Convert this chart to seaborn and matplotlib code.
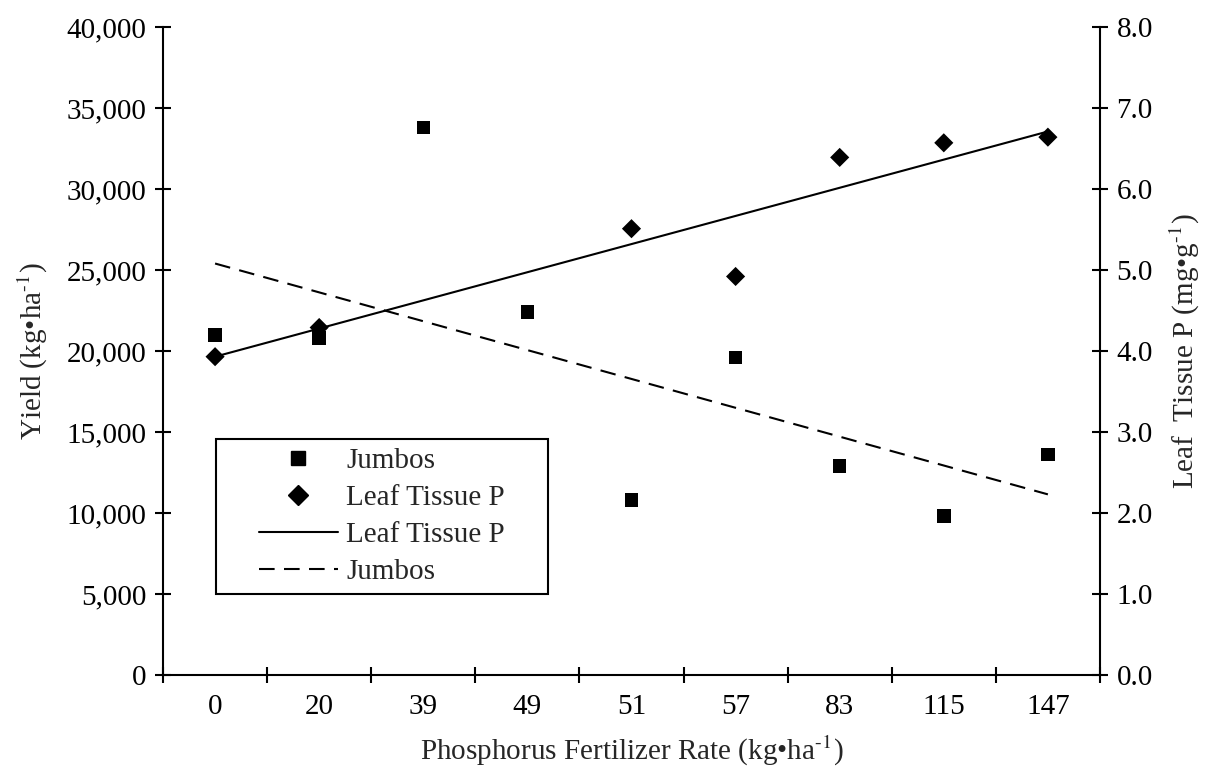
import matplotlib
matplotlib.use('Agg')
import matplotlib.pyplot as plt
from matplotlib.lines import Line2D
from matplotlib.patches import Rectangle
from matplotlib.ticker import FuncFormatter, FixedLocator
import seaborn as sns
import numpy as np

# data
rates = ['0', '20', '39', '49', '51', '57', '83', '115', '147']
jumbos = [21000, 20800, 33800, 22400, 10800, 19600, 12900, 9800, 13600]
leaf_rates = ['0', '20', '51', '57', '83', '115', '147']
leaf_p = [3.93, 4.29, 5.51, 4.92, 6.39, 6.57, 6.64]
trend_rates = ['0', '147']
leaf_trend = [3.93, 6.71]
jumbo_trend = [25400, 11150]

yield_ticks = [0, 5000, 10000, 15000, 20000, 25000, 30000, 35000, 40000]
leaf_ticks = [0, 1, 2, 3, 4, 5, 6, 7, 8]

sns.set_theme(style='ticks')
plt.rcParams['font.family'] = ['Liberation Serif', 'DejaVu Serif']
plt.rcParams['mathtext.fontset'] = 'stix'
plt.rcParams['axes.linewidth'] = 1.4
FS = 21

pos = {r: i for i, r in enumerate(rates)}
x_all = [pos[r] for r in rates]
x_leaf = [pos[r] for r in leaf_rates]
x_trend = [pos[r] for r in trend_rates]

fig, ax = plt.subplots(figsize=(12.13, 7.71), dpi=100)
fig.subplots_adjust(left=0.1344, right=0.9068, bottom=0.1245, top=0.965)
ax2 = ax.twinx()

# jumbos on the left axis
sns.scatterplot(x=x_all, y=jumbos, ax=ax, marker='s', s=95, color='black',
                edgecolor='none', legend=False, zorder=3)
sns.lineplot(x=x_trend, y=jumbo_trend, ax=ax, color='black', linewidth=1.5,
             linestyle=(0, (7.5, 4.5)), legend=False)

# leaf tissue P on the right axis
sns.scatterplot(x=x_leaf, y=leaf_p, ax=ax2, marker='D', s=95, color='black',
                edgecolor='none', legend=False, zorder=3)
sns.lineplot(x=x_trend, y=leaf_trend, ax=ax2, color='black', linewidth=1.5,
             legend=False)

# axes limits / ticks
ax.set_xlim(-0.5, len(rates) - 0.5)
ax.set_ylim(0, 40000)
ax2.set_ylim(0, 8)

ax.set_xticks(x_all)
ax.set_xticklabels(rates)
ax.xaxis.set_minor_locator(FixedLocator(np.arange(-0.5, len(rates), 1.0)))
ax.tick_params(axis='x', which='major', length=0, pad=14, labelsize=FS, colors='black')
ax.tick_params(axis='x', which='minor', direction='inout', length=12, width=1.5, color='black')

ax.set_yticks(yield_ticks)
ax.yaxis.set_major_formatter(FuncFormatter(lambda v, p: f'{int(v):,}'))
ax.tick_params(axis='y', direction='inout', length=12, width=1.5, pad=6, labelsize=FS, colors='black')

ax2.set_yticks(leaf_ticks)
ax2.yaxis.set_major_formatter(FuncFormatter(lambda v, p: f'{v:.1f}'))
ax2.tick_params(axis='y', direction='inout', length=12, width=1.5, pad=6, labelsize=FS, colors='black')

for a in (ax, ax2):
    a.spines['top'].set_visible(False)
    for s in ('left', 'right', 'bottom'):
        a.spines[s].set_color('black')
        a.spines[s].set_linewidth(1.5)
ax.spines['right'].set_visible(False)
ax2.spines['left'].set_visible(False)
ax2.spines['bottom'].set_visible(False)

ax.set_xlabel(r'Phosphorus Fertilizer Rate (kg•ha$^{\text{-1}}$)', fontsize=FS, labelpad=10)
ax.set_ylabel(r'Yield (kg•ha$^{\text{-1}}$)', fontsize=FS, labelpad=12)
ax2.set_ylabel(r'Leaf  Tissue P (mg•g$^{\text{-1}}$)', fontsize=FS, labelpad=11)

# legend
handles = [
    Line2D([], [], marker='s', ls='none', color='black', markersize=10),
    Line2D([], [], marker='D', ls='none', color='black', markersize=10),
    Line2D([], [], color='black', lw=1.5),
    Line2D([], [], color='black', lw=1.5, ls=(0, (7.5, 4.5))),
]
labels = ['Jumbos', 'Leaf Tissue P', 'Leaf Tissue P', 'Jumbos']
leg = ax2.legend(handles, labels, loc='center', bbox_to_anchor=(0.2337, 0.2446),
                 frameon=False, fontsize=FS, handlelength=2.7, handletextpad=0.3,
                 labelspacing=0.36, borderpad=0.2)
ax2.add_patch(Rectangle((0.0566, 0.125), 0.3544, 0.239, transform=ax2.transAxes,
                        fill=False, edgecolor='black', linewidth=1.5, zorder=5))

fig.savefig('out.png', dpi=100)
